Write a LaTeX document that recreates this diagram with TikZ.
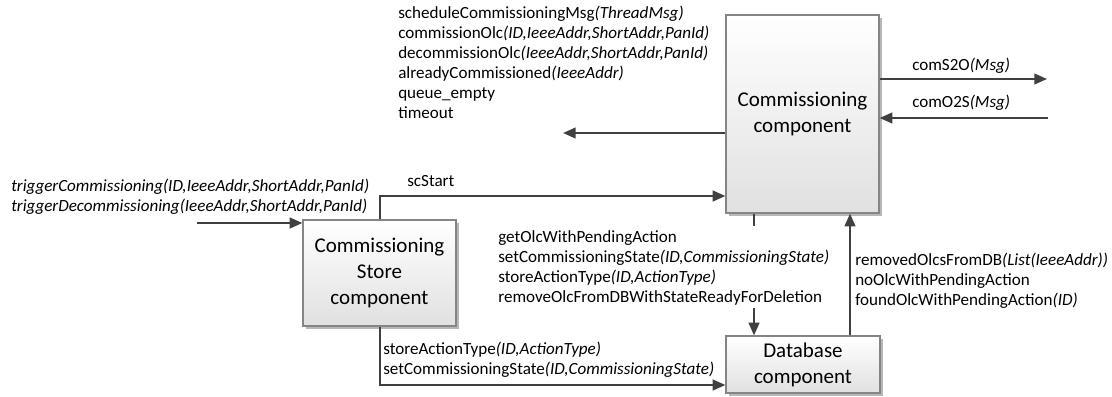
\documentclass[tikz,border=0pt]{standalone}
\usepackage{fontspec}
\setmainfont{Carlito}
\usetikzlibrary{arrows.meta,shadows}
\definecolor{wiregray}{HTML}{404040}
\definecolor{boxedge}{HTML}{858585}

\begin{document}
\begin{tikzpicture}[x=0.75pt,y=-0.75pt,
  comp/.style={draw=boxedge, line width=0.9pt, top color=white, bottom color=black!12,
    align=center, inner sep=0pt, font=\fontsize{15.75}{19.5}\selectfont,
    drop shadow={shadow xshift=2.4pt, shadow yshift=-2.4pt, fill=black!40, opacity=0.7}},
  msg/.style={anchor=west, align=left, inner sep=0pt, font=\fontsize{12.8}{15}\selectfont},
  wire/.style={draw=wiregray, line width=1.5pt},
  flow/.style={wire, -{Triangle[length=9.5pt,width=8pt]}},
]
\fill[white] (0,0) rectangle (1112,396);
\useasboundingbox (0,0) rectangle (1112,396);

% components
\node[comp, minimum width=114.75pt, minimum height=148.5pt] (cc) at (802.5,114)
  {Commissioning\\component};
\node[comp, minimum width=114.75pt, minimum height=79.5pt] (st) at (379.5,273)
  {Commissioning\\Store\\component};
\node[comp, minimum width=115.5pt, minimum height=42.75pt] (db) at (803,364.5)
  {Database\\component};

% free ends and bend points of the connectors
\coordinate (outL) at (563,133);
\coordinate (s2o) at (1047,79);
\coordinate (o2s) at (1048,118);
\coordinate (in) at (197,223);
\coordinate (scy) at (600,196);
\coordinate (dby) at (600,385);
\coordinate (stub) at (754,226);
\coordinate (dn) at (754,308);
\coordinate (upx) at (850,300);

% connectors
\draw[flow] (cc.west |- outL) -- (outL);
\draw[flow] (cc.east |- s2o) -- (s2o);
\draw[flow] (o2s) -- (cc.east |- o2s);
\draw[flow] (in) -- (st.west |- in);
\draw[flow] (st.north) |- (cc.west |- scy);
\draw[flow] (st.south) |- (db.west |- dby);
\draw[wire] (cc.south -| stub) -- (stub);
\draw[flow] (dn) -- (db.north -| dn);
\draw[flow] (db.north -| upx) -- (cc.south -| upx);

% message labels
\node[msg] (m1) at (398,62) {scheduleCommissioningMsg\textit{(ThreadMsg)}\\
  commissionOlc\textit{(ID,IeeeAddr,ShortAddr,PanId)}\\
  decommissionOlc\textit{(IeeeAddr,ShortAddr,PanId)}\\
  alreadyCommissioned\textit{(IeeeAddr)}\\
  queue\_empty\\
  timeout};
\node[msg] (m2) at (912,66) {comS2O\textit{(Msg)}};
\node[msg] (m3) at (912,103) {comO2S\textit{(Msg)}};
\node[msg] (m4) at (11,196.5) {\textit{triggerCommissioning(ID,IeeeAddr,ShortAddr,PanId)}\\
  \textit{triggerDecommissioning(IeeeAddr,ShortAddr,PanId)}};
\node[msg] (m5) at (407,181) {scStart};
\node[msg] (m6) at (498,268) {getOlcWithPendingAction\\
  setCommissioningState\textit{(ID,CommissioningState)}\\
  storeActionType\textit{(ID,ActionType)}\\
  removeOlcFromDBWithStateReadyForDeletion};
\node[msg] (m7) at (855,281) {removedOlcsFromDB\textit{(List(IeeeAddr))}\\
  noOlcWithPendingAction\\
  foundOlcWithPendingAction\textit{(ID)}};
\node[msg] (m8) at (383,360) {storeActionType\textit{(ID,ActionType)}\\
  setCommissioningState\textit{(ID,CommissioningState)}};
\end{tikzpicture}
\end{document}
